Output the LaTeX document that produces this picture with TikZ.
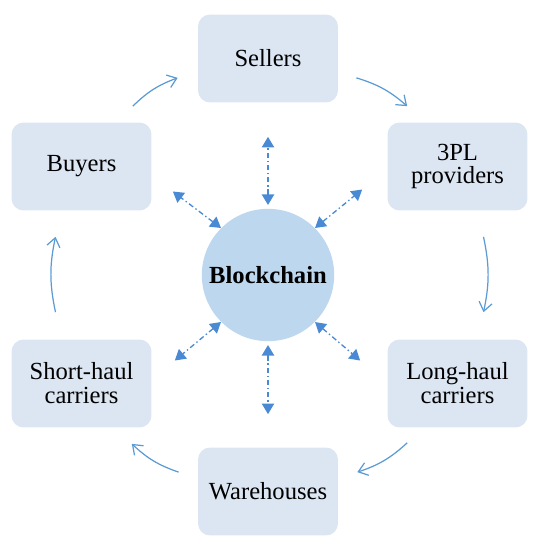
\documentclass[tikz,border=0pt]{standalone}
\usepackage{fontspec}
\setmainfont{Liberation Serif}
\usepackage{xcolor}
\usepackage{tikz}
\usetikzlibrary{arrows.meta, calc, shapes}
\definecolor{boxblue}{HTML}{DCE6F2}
\definecolor{coreblue}{HTML}{BDD7EE}
\definecolor{flowblue}{HTML}{5B9BD5}
\definecolor{linkblue}{HTML}{4A8AD4}
\tikzstyle{party} = [rectangle, rounded corners=0.24cm, minimum width=2.8cm, minimum height=1.76cm, align=center, fill=boxblue, font=\fontsize{14}{13.6}\selectfont]
\tikzstyle{core} = [circle, minimum size=2.48cm, fill=coreblue, font=\fontsize{14}{13.6}\selectfont\bfseries]
\tikzstyle{flow} = [draw=flowblue, line width=0.7pt, -{Straight Barb[length=5pt, width=7.5pt]}, bend left=12]
\tikzstyle{link} = [draw=linkblue, line width=0.75pt, dash pattern=on 3pt off 1.6pt on 0.8pt off 1.6pt, {Triangle[length=6pt, width=7pt]}-{Triangle[length=6pt, width=7pt]}]

\begin{document}
\begin{tikzpicture}[x=0.02cm, y=-0.02cm]
    \useasboundingbox (0,0) rectangle (543,550);

    % Nodos exteriores
    \node (sellers) [party] at (268,58.5) {Sellers};
    \node (tpl) [party] at (457.5,166.5) {3PL\\providers};
    \node (lh) [party] at (457.5,383.5) {Long-haul\\carriers};
    \node (wh) [party] at (268,491.5) {Warehouses};
    \node (sh) [party] at (81.5,383.5) {Short-haul\\carriers};
    \node (buyers) [party] at (81.5,166.5) {Buyers};

    % Nodo central
    \node (bc) [core] at (268,275) {Blockchain};

    % Flechas del ciclo
    \draw [flow] ($(buyers.north east)+(-19,-16)$) to ($(sellers.south west)+(-20,-25)$);
    \draw [flow] ($(sellers.south east)+(18,-25)$) to ($(tpl.north west)+(20,-16)$);
    \draw [flow] ($(tpl.south)+(26,26)$) to ($(lh.north)+(26,-27)$);
    \draw [flow] ($(lh.south west)+(20,15)$) to ($(wh.north east)+(19,25)$);
    \draw [flow] ($(wh.north west)+(-19,25)$) to ($(sh.south east)+(-20,16)$);
    \draw [flow] ($(sh.north)+(-26,-27)$) to ($(buyers.south)+(-26,26)$);

    % Flechas del blockchain
    \draw [link, shorten <=2pt] (bc.north) -- ($(sellers.south)+(0,34)$);
    \draw [link] (bc.45) -- ($(tpl.west)+(-25,23)$);
    \draw [link] (bc.315) -- ($(lh.west)+(-27,-23)$);
    \draw [link, shorten <=2pt] (bc.south) -- ($(wh.north)+(0,-33)$);
    \draw [link] (bc.225) -- ($(sh.east)+(23,-23)$);
    \draw [link] (bc.135) -- ($(buyers.east)+(21,25)$);
\end{tikzpicture}
\end{document}
